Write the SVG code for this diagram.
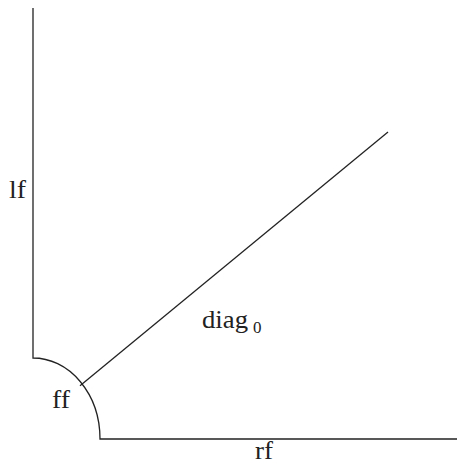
<svg xmlns="http://www.w3.org/2000/svg" width="459" height="464" viewBox="0 0 459 464">
<style>
.ln{fill:none;stroke:#222;stroke-width:1.3}
.t{font-family:"Liberation Serif","DejaVu Serif",serif;font-size:25px;fill:#222}
.s{font-family:"Liberation Serif","DejaVu Serif",serif;font-size:17px;fill:#222}
</style>
<g id="connectors">
<path class="ln" d="M33,8 L33,358 A67,81 0 0 1 100,439 L457,439"/>
<line class="ln" x1="80" y1="385.7" x2="388" y2="132"/>
</g>
<g id="lf"><text class="t" x="9" y="198" textLength="17" lengthAdjust="spacingAndGlyphs">lf</text></g>
<g id="ff"><text class="t" x="52" y="408" textLength="18" lengthAdjust="spacingAndGlyphs">ff</text></g>
<g id="diag"><text class="t" x="202" y="328" textLength="46" lengthAdjust="spacingAndGlyphs">diag</text><text class="s" x="253" y="333">0</text></g>
<g id="rf"><text class="t" x="255" y="459" textLength="18" lengthAdjust="spacingAndGlyphs">rf</text></g>
</svg>
